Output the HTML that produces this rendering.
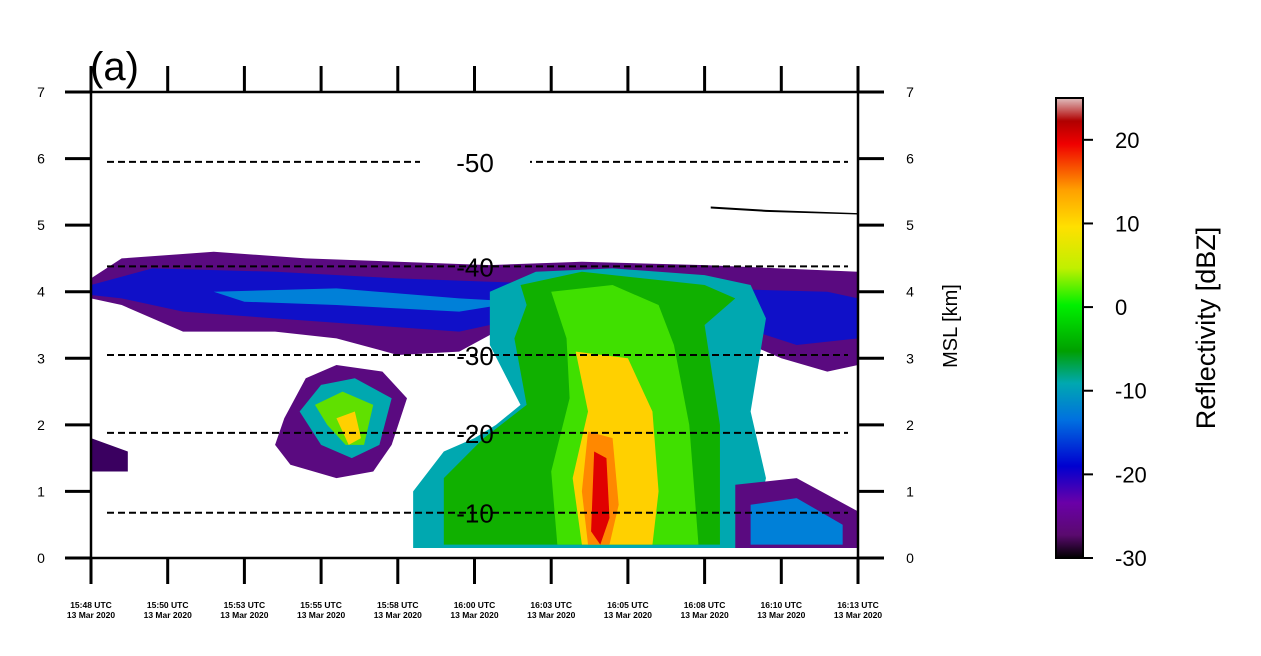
<!DOCTYPE html>
<html><head><meta charset="utf-8"><style>
html,body{margin:0;padding:0;background:#fff;}
svg{display:block;font-family:"Liberation Sans","DejaVu Sans",sans-serif;}
</style></head><body>
<svg id="chart" width="1261" height="656" viewBox="0 0 1261 656" xmlns="http://www.w3.org/2000/svg">
<defs>
<linearGradient id="cmap" x1="0" y1="1" x2="0" y2="0">
<stop offset="0" stop-color="#000000"/>
<stop offset="0.05" stop-color="#5a0a6e"/>
<stop offset="0.12" stop-color="#6a00a8"/>
<stop offset="0.2" stop-color="#0000d0"/>
<stop offset="0.3" stop-color="#0070e0"/>
<stop offset="0.38" stop-color="#00a8b0"/>
<stop offset="0.45" stop-color="#00a000"/>
<stop offset="0.55" stop-color="#00f000"/>
<stop offset="0.63" stop-color="#c0f000"/>
<stop offset="0.72" stop-color="#ffe000"/>
<stop offset="0.8" stop-color="#ffa000"/>
<stop offset="0.9" stop-color="#f00000"/>
<stop offset="0.95" stop-color="#b00000"/>
<stop offset="1" stop-color="#e0c0c0"/>
</linearGradient>
</defs>
<g id="echoes"></g>
<g id="iso"></g>
<g id="axes"></g>
<text x="90" y="80" font-size="40">(a)</text>
<text transform="translate(957,326) rotate(-90)" text-anchor="middle" font-size="20">MSL [km]</text>
<rect x="1056" y="98" width="27" height="460" fill="url(#cmap)" stroke="#000" stroke-width="2"/>
<g id="cbar"></g>
<text transform="translate(1215,328) rotate(-90)" text-anchor="middle" font-size="27">Reflectivity [dBZ]</text>
</svg>
<script>
const xTickLabels=["15:48 UTC","15:50 UTC","15:53 UTC","15:55 UTC","15:58 UTC","16:00 UTC","16:03 UTC","16:05 UTC","16:08 UTC","16:10 UTC","16:13 UTC"];
const yTicks=[0,1,2,3,4,5,6,7];
const cbarTicks=[-30,-20,-10,0,10,20];
const isoTemps=[-10,-20,-30,-40,-50];
const isoHeights=[0.68,1.88,3.05,4.38,5.95];
// echo shapes: [color, [[minute, km], ...]]
const echoes=[
 ["#5a0a80",[[0,4.2],[1,4.5],[4,4.6],[7,4.5],[10,4.45],[13,4.4],[16,4.45],[20,4.4],[25,4.3],[25,2.9],[24,2.8],[22.5,3.0],[21,3.3],[19,3.4],[16,3.5],[14,3.6],[12,3.1],[10,3.05],[8,3.3],[6,3.4],[3,3.4],[1,3.8],[0,3.9]]],
 ["#1010c8",[[0,4.1],[2,4.35],[6,4.3],[10,4.2],[13,4.15],[16,4.1],[20,4.05],[24,4.0],[25,3.9],[25,3.3],[23,3.2],[21,3.5],[18,3.6],[15,3.7],[12,3.4],[9,3.5],[6,3.6],[3,3.7],[1,3.9],[0,3.95]]],
 ["#0080d8",[[4,4.0],[8,4.05],[12,3.9],[14,3.85],[12,3.7],[8,3.8],[5,3.85]]],
 ["#00a8b0",[[13,4.0],[14.5,4.3],[17,4.35],[20,4.25],[21.5,4.1],[22,3.6],[21.5,2.2],[22,1.2],[21.5,0.15],[10.5,0.15],[10.5,1.0],[11.5,1.6],[12.5,1.8],[13.2,2.0],[14,2.3],[13,3.2]]],
 ["#10b000",[[14,4.1],[16,4.3],[18,4.2],[20,4.1],[21,3.9],[20,3.5],[20.5,2.0],[20.5,0.2],[11.5,0.2],[11.5,1.2],[12.8,1.8],[14.2,2.3],[13.8,3.3],[14.2,3.8]]],
 ["#40e000",[[15,4.0],[17,4.1],[18.5,3.8],[19,3.2],[19.5,2.0],[19.8,0.2],[15.2,0.2],[15,1.3],[15.6,2.4],[15.5,3.3]]],
 ["#ffd000",[[15.8,3.1],[17.5,3.0],[18.3,2.2],[18.5,1.0],[18.3,0.2],[16,0.2],[15.7,1.2],[16.2,2.2]]],
 ["#ff8800",[[16.2,1.9],[17,1.8],[17.2,0.8],[16.9,0.2],[16.2,0.2],[16,1.0]]],
 ["#e00000",[[16.4,1.6],[16.8,1.5],[16.9,0.6],[16.6,0.2],[16.3,0.4]]],
 ["#5a0a80",[[6.3,2.1],[7,2.7],[8,2.9],[9.5,2.8],[10.3,2.4],[9.8,1.7],[9.2,1.3],[8,1.2],[6.5,1.4],[6,1.7]]],
 ["#00a8b0",[[6.8,2.2],[7.5,2.6],[8.6,2.7],[9.8,2.4],[9.4,1.7],[8.5,1.5],[7.5,1.7]]],
 ["#60e000",[[7.3,2.3],[8.2,2.5],[9.2,2.3],[8.9,1.7],[8.3,1.7],[7.7,2.0]]],
 ["#ffd000",[[8,2.1],[8.6,2.2],[8.8,1.8],[8.4,1.7]]],
 ["#3a0060",[[0,1.8],[1.2,1.6],[1.2,1.3],[0,1.3]]],
 ["#5a0a80",[[21,1.1],[23,1.2],[25,0.7],[25,0.15],[21,0.15]]],
 ["#0080d8",[[21.5,0.8],[23,0.9],[24.5,0.5],[24.5,0.2],[21.5,0.2]]],
 ["#000000",[[20.2,5.28],[22,5.23],[25,5.18],[25,5.16],[22,5.2],[20.2,5.25]]]
];
const NS="http://www.w3.org/2000/svg";
const X0=91,X1=858,Y0=558,Y7=92;
const xs=m=>X0+m*(X1-X0)/25;
const ys=k=>Y0-k*(Y0-Y7)/7;
const xt=i=>X0+i*(X1-X0)/(xTickLabels.length-1);
const cy=v=>558-(v+30)*(460/55);
function mk(tag,attrs,parent,txt){const e=document.createElementNS(NS,tag);for(const k in attrs)e.setAttribute(k,attrs[k]);if(txt!==undefined)e.textContent=txt;parent.appendChild(e);return e;}
const eg=document.getElementById('echoes');
echoes.forEach(function(ec,i){
 const p=mk('polygon',{points:ec[1].map(q=>xs(q[0])+','+ys(q[1])).join(' '),fill:ec[0]},eg);
 
 
});
const ig=document.getElementById('iso');
isoTemps.forEach(function(t,i){
 const y=ys(isoHeights[i]);
 const l=mk('line',{x1:107,x2:848,y1:y,y2:y,stroke:'#000','stroke-width':2,'stroke-dasharray':'7,4'},ig);
 
 
 if(t===-50){const r=mk('rect',{x:420,y:y-5,width:110,height:10,fill:'#fff'},ig);}
 const tx=mk('text',{x:475,y:y+10,'text-anchor':'middle','font-size':26},ig,String(t));
 
 
});
const ag=document.getElementById('axes');
const fr=mk('rect',{x:X0,y:Y7,width:X1-X0,height:Y0-Y7,fill:'none',stroke:'#000','stroke-width':2.5},ag);


xTickLabels.forEach(function(lb,i){
 const x=xt(i);
 const t1=mk('line',{x1:x,x2:x,y1:Y0,y2:Y0+26,stroke:'#000','stroke-width':3},ag);
 
 
 const t2=mk('line',{x1:x,x2:x,y1:Y7,y2:Y7-26,stroke:'#000','stroke-width':3},ag);
 
 
 const tx=mk('text',{x:x,y:608,'text-anchor':'middle','font-size':8.5,'font-weight':'bold'},ag);
 
 
 mk('tspan',{x:x,dy:0},tx,lb);
 mk('tspan',{x:x,dy:10},tx,'13 Mar 2020');
});
yTicks.forEach(function(v){
 const y=ys(v);
 const a=mk('line',{x1:X0-26,x2:X0,y1:y,y2:y,stroke:'#000','stroke-width':3},ag);
 
 
 const b=mk('line',{x1:X1,x2:X1+26,y1:y,y2:y,stroke:'#000','stroke-width':3},ag);
 
 
 const l=mk('text',{x:41,y:y+5,'text-anchor':'middle','font-size':14},ag,String(v));
 
 
 const r=mk('text',{x:910,y:y+5,'text-anchor':'middle','font-size':14},ag,String(v));
 
 
});
const cg=document.getElementById('cbar');
cbarTicks.forEach(function(v){
 const y=cy(v);
 const l=mk('line',{x1:1083,x2:1093,y1:y,y2:y,stroke:'#000','stroke-width':2},cg);
 
 
 const t=mk('text',{x:1115,y:y+8,'font-size':22},cg,String(v));
 
 
});
</script>
</body></html>
